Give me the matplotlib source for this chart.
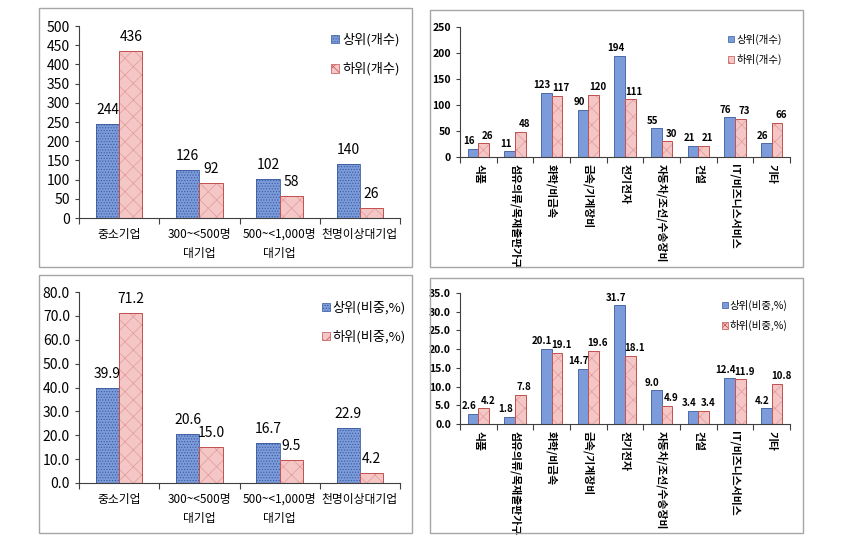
import numpy as np
import matplotlib.pyplot as plt
from matplotlib.patches import Rectangle
from matplotlib.ticker import FixedLocator, FormatStrFormatter

plt.rcParams['font.family'] = ['Noto Sans CJK KR', 'DejaVu Sans']
plt.rcParams['hatch.linewidth'] = 0.5

# data
size_cats = ['중소기업', '300~<500명\n대기업', '500~<1,000명\n대기업', '천명이상대기업']
size_top_cnt = [244, 126, 102, 140]
size_low_cnt = [436, 92, 58, 26]
size_top_pct = [39.9, 20.6, 16.7, 22.9]
size_low_pct = [71.2, 15.0, 9.5, 4.2]

ind_cats = ['식품', '섬유의류/목재출판가구', '화학/비금속', '금속/기계장비', '전기전자',
            '자동차/조선/수송장비', '건설', 'IT/비즈니스서비스', '기타']
ind_top_cnt = [16, 11, 123, 90, 194, 55, 21, 76, 26]
ind_low_cnt = [26, 48, 117, 120, 111, 30, 21, 73, 66]
ind_top_pct = [2.6, 1.8, 20.1, 14.7, 31.7, 9.0, 3.4, 12.4, 4.2]
ind_low_pct = [4.2, 7.8, 19.1, 19.6, 18.1, 4.9, 3.4, 11.9, 10.8]

W, H = 842, 536
fig = plt.figure(figsize=(W / 100, H / 100), dpi=100)


def box(l, t, r, b):
    return [l / W, 1 - b / H, (r - l) / W, (b - t) / H]


for l, t, r, b in [(39, 8, 412, 267), (430, 10, 803, 267), (39, 275, 412, 533), (430, 278, 803, 533)]:
    fig.add_artist(Rectangle((l / W, 1 - b / H), (r - l) / W, (b - t) / H,
                             transform=fig.transFigure, fill=False, ec='#A6A6A6', lw=1))

BLUE, BLUE_E, BLUE_H = '#7B9BDA', '#3A5A9C', '#3A5A9C'
PINK, PINK_E, PINK_H = '#F4C6C6', '#C0504D', '#E39A9A'


def panel(rect, cats, top, low, labels, ymax, ystep, fmt, legpos, small):
    ax = fig.add_axes(box(*rect))
    x = np.arange(len(cats))
    w = 0.29
    wt = 'bold' if small else 'normal'
    if small:
        ax.bar(x - w / 2, top, w, color=BLUE, edgecolor=BLUE_E, lw=0.6)
    else:
        ax.bar(x - w / 2, top, w, color=BLUE, edgecolor=BLUE_H, hatch='......', lw=0)
        ax.bar(x - w / 2, top, w, color='none', edgecolor=BLUE_E, lw=0.6)
    ax.bar(x + w / 2, low, w, color=PINK, edgecolor=PINK_H, hatch='xx', lw=0)
    ax.bar(x + w / 2, low, w, color='none', edgecolor=PINK_E, lw=0.7)
    # legend proxies
    h1 = Rectangle((0, 0), 1, 1, fc=BLUE, ec=BLUE_E, hatch='' if small else '......', lw=0.5)
    h2 = Rectangle((0, 0), 1, 1, fc=PINK, ec=PINK_E, hatch='xx', lw=0.5)
    ax.legend([h1, h2], labels, loc='upper left', bbox_to_anchor=legpos, frameon=False,
              handlelength=0.6, handleheight=0.6, handletextpad=0.2,
              labelspacing=0.9 if small else 1.2, borderaxespad=0,
              prop={'size': 7.5 if small else 9.5})
    off = 2 if small else 5
    vfs = 7 if small else 10
    dx = 2.9 if small else 0
    for xs, vals, sh in ((x - w / 2, top, -dx), (x + w / 2, low, dx)):
        for xi, v in zip(xs, vals):
            ax.annotate(fmt % v, (xi, v), xytext=(sh, off), textcoords='offset points',
                        ha='center', va='bottom', fontsize=vfs, fontweight=wt)
    ax.set_xlim(-0.5, len(cats) - 0.5)
    ax.set_ylim(0, ymax)
    ax.set_yticks(np.arange(0, ymax + ystep / 2, ystep))
    ax.yaxis.set_major_formatter(FormatStrFormatter(fmt))
    ax.xaxis.set_major_locator(FixedLocator(np.arange(-0.5, len(cats), 1)))
    ax.set_xticklabels([])
    ax.xaxis.set_minor_locator(FixedLocator(x))
    if small:
        ax.set_xticklabels(cats, minor=True, rotation=270, va='top', ha='center',
                           fontsize=7.8, fontweight='bold')
        ax.tick_params(axis='x', which='minor', length=0, pad=5)
    else:
        ax.set_xticklabels(cats, minor=True, fontsize=8.5, linespacing=1.6)
        ax.tick_params(axis='x', which='minor', length=0, pad=7)
    ax.tick_params(axis='x', which='major', length=4, color='#404040')
    ax.tick_params(axis='y', length=3, color='#404040')
    for lab in ax.get_yticklabels():
        lab.set_fontweight(wt)
        lab.set_fontsize(7.5 if small else 10)
    for s in ['top', 'right']:
        ax.spines[s].set_visible(False)
    for s in ['left', 'bottom']:
        ax.spines[s].set_color('#404040')
        ax.spines[s].set_linewidth(0.8)
    return ax


panel((79, 26, 400, 218), size_cats, size_top_cnt, size_low_cnt,
      ['상위(개수)', '하위(개수)'], 500, 50, '%d', (0.77, 0.99), False)
panel((460, 27, 790, 157), ind_cats, ind_top_cnt, ind_low_cnt,
      ['상위(개수)', '하위(개수)'], 250, 50, '%d', (0.8, 0.98), True)
panel((79, 292, 400, 483), size_cats, size_top_pct, size_low_pct,
      ['상위(비중,%)', '하위(비중,%)'], 80, 10, '%.1f', (0.74, 0.98), False)
panel((460, 293, 790, 424), ind_cats, ind_top_pct, ind_low_pct,
      ['상위(비중,%)', '하위(비중,%)'], 35, 5, '%.1f', (0.78, 0.98), True)

fig.savefig('out.png', dpi=100)
